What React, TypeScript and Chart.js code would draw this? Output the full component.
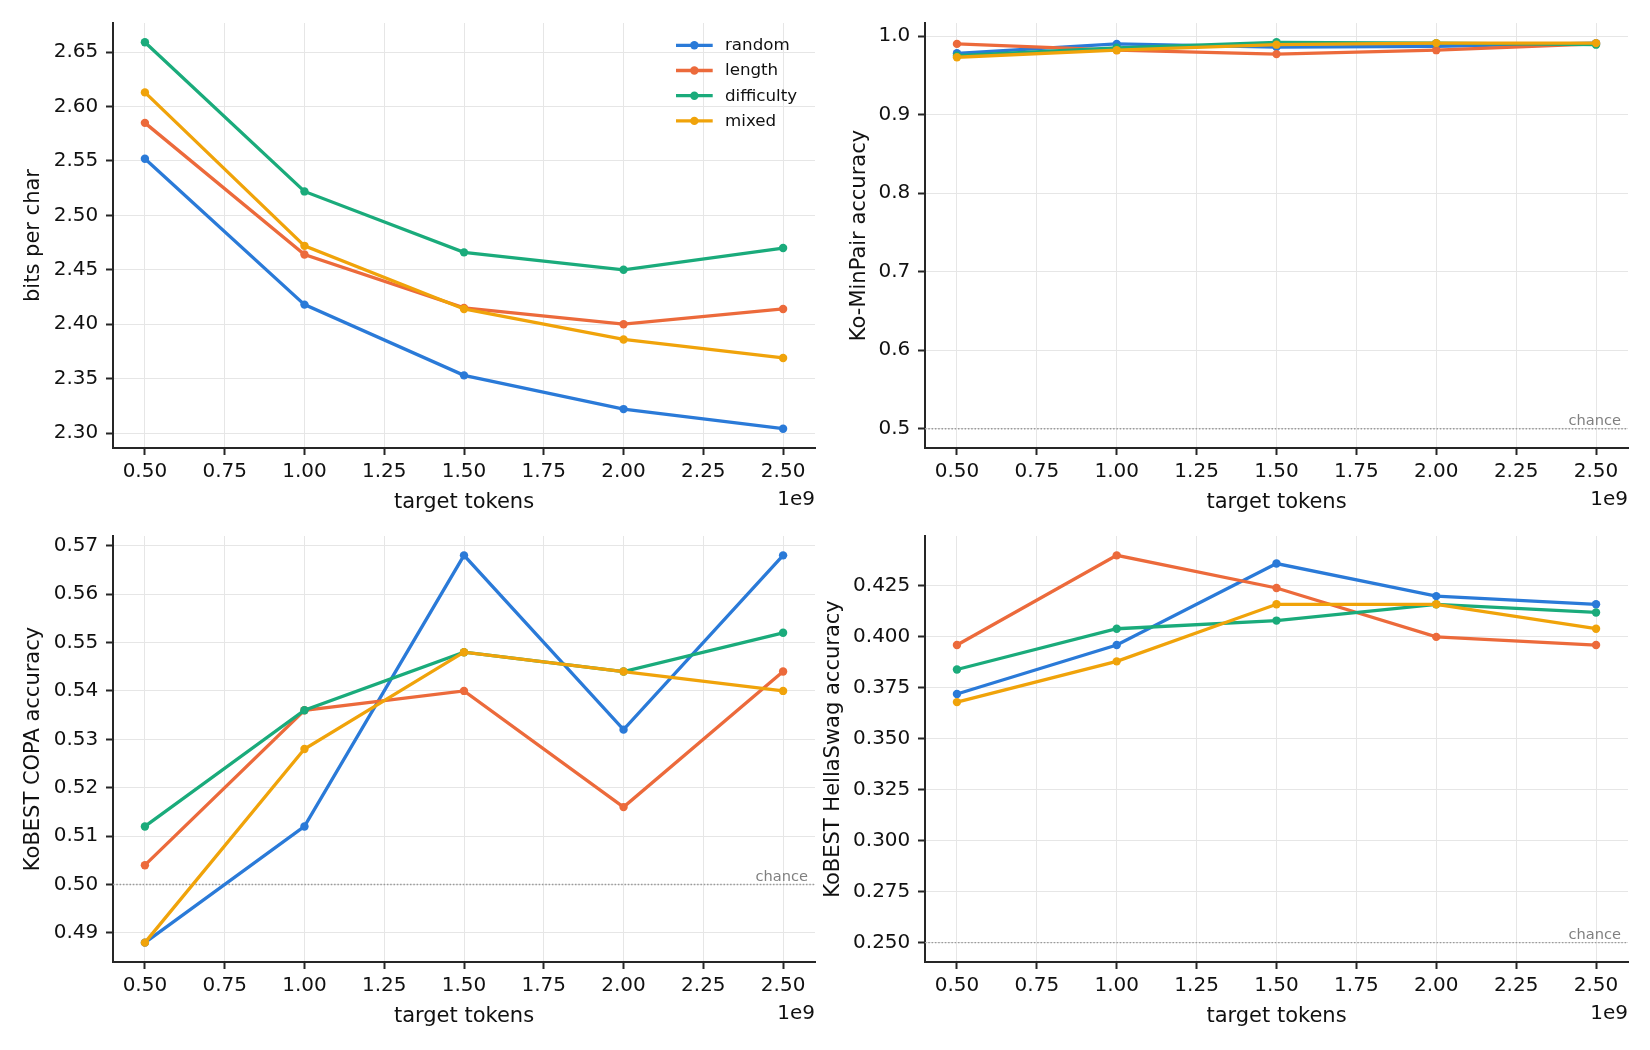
import React, { useEffect, useRef } from "react";
import { Chart, registerables } from "chart.js";

Chart.register(...registerables);

// ---------- data ----------
const tokens = [0.5e9, 1.0e9, 1.5e9, 2.0e9, 2.5e9];
const xTicks = [0.5e9, 0.75e9, 1.0e9, 1.25e9, 1.5e9, 1.75e9, 2.0e9, 2.25e9, 2.5e9];

const seriesNames = ["random", "length", "difficulty", "mixed"];
const seriesColors = ["#2a7ad8", "#ec6a3b", "#1aab7b", "#f0a30a"];

const bpcRandom = [2.552, 2.418, 2.353, 2.322, 2.304];
const bpcLength = [2.585, 2.464, 2.415, 2.400, 2.414];
const bpcDifficulty = [2.659, 2.522, 2.466, 2.450, 2.470];
const bpcMixed = [2.613, 2.472, 2.414, 2.386, 2.369];
const bpcTicks = [2.30, 2.35, 2.40, 2.45, 2.50, 2.55, 2.60, 2.65];

const minpairRandom = [0.978, 0.990, 0.986, 0.987, 0.991];
const minpairLength = [0.990, 0.982, 0.977, 0.982, 0.990];
const minpairDifficulty = [0.975, 0.985, 0.992, 0.991, 0.989];
const minpairMixed = [0.973, 0.982, 0.989, 0.991, 0.991];
const minpairTicks = [0.5, 0.6, 0.7, 0.8, 0.9, 1.0];

const copaRandom = [0.488, 0.512, 0.568, 0.532, 0.568];
const copaLength = [0.504, 0.536, 0.540, 0.516, 0.544];
const copaDifficulty = [0.512, 0.536, 0.548, 0.544, 0.552];
const copaMixed = [0.488, 0.528, 0.548, 0.544, 0.540];
const copaTicks = [0.49, 0.50, 0.51, 0.52, 0.53, 0.54, 0.55, 0.56, 0.57];

const hellaRandom = [0.372, 0.396, 0.436, 0.420, 0.416];
const hellaLength = [0.396, 0.440, 0.424, 0.400, 0.396];
const hellaDifficulty = [0.384, 0.404, 0.408, 0.416, 0.412];
const hellaMixed = [0.368, 0.388, 0.416, 0.416, 0.404];
const hellaTicks = [0.250, 0.275, 0.300, 0.325, 0.350, 0.375, 0.400, 0.425];

const FONT = "'DejaVu Sans', 'Liberation Sans', sans-serif";
const TEXT = "#111111";
const SPINE = "#262626";
const GRID = "#e6e6e6";

type PanelDef = {
  key: string;
  left: number;
  top: number;
  width: number;
  height: number;
  area: { left: number; right: number; top: number; bottom: number };
  yTitle: string;
  yTitlePad: number;
  xTitlePad: number;
  series: number[][];
  yTicks: number[];
  decimals: number;
  chance: number | null;
  legend: boolean;
};

const panels: PanelDef[] = [
  {
    key: "bpc",
    left: 0, top: 0, width: 825, height: 525,
    area: { left: 113, right: 815, top: 23, bottom: 448 },
    yTitle: "bits per char", yTitlePad: 20.7, xTitlePad: 10.2,
    series: [bpcRandom, bpcLength, bpcDifficulty, bpcMixed],
    yTicks: bpcTicks, decimals: 2, chance: null, legend: true,
  },
  {
    key: "minpair",
    left: 800, top: 0, width: 850, height: 525,
    area: { left: 125, right: 828, top: 23, bottom: 448 },
    yTitle: "Ko-MinPair accuracy", yTitlePad: 47.3, xTitlePad: 10.2,
    series: [minpairRandom, minpairLength, minpairDifficulty, minpairMixed],
    yTicks: minpairTicks, decimals: 1, chance: 0.5, legend: false,
  },
  {
    key: "copa",
    left: 0, top: 525, width: 825, height: 525,
    area: { left: 113, right: 815, top: 11, bottom: 437 },
    yTitle: "KoBEST COPA accuracy", yTitlePad: 20.7, xTitlePad: 21.2,
    series: [copaRandom, copaLength, copaDifficulty, copaMixed],
    yTicks: copaTicks, decimals: 2, chance: 0.5, legend: false,
  },
  {
    key: "hella",
    left: 800, top: 525, width: 850, height: 525,
    area: { left: 125, right: 828, top: 11, bottom: 437 },
    yTitle: "KoBEST HellaSwag accuracy", yTitlePad: 20.8, xTitlePad: 21.2,
    series: [hellaRandom, hellaLength, hellaDifficulty, hellaMixed],
    yTicks: hellaTicks, decimals: 3, chance: 0.25, legend: false,
  },
];

function Panel({ def }: { def: PanelDef }) {
  const ref = useRef<HTMLCanvasElement | null>(null);

  useEffect(() => {
    if (!ref.current) return;
    const all: number[] = [];
    def.series.forEach((s) => all.push(...s));
    if (def.chance !== null) all.push(def.chance);
    const lo = Math.min(...all);
    const hi = Math.max(...all);
    const m = (hi - lo) * 0.05;

    const overlay = {
      id: "overlay_" + def.key,
      beforeDatasetsDraw(chart: any) {
        if (def.chance === null) return;
        const { ctx, chartArea } = chart;
        const y = chart.scales.y.getPixelForValue(def.chance);
        ctx.save();
        ctx.strokeStyle = "#9a9a9a";
        ctx.lineWidth = 1.4;
        ctx.setLineDash([1.5, 1.8]);
        ctx.beginPath();
        ctx.moveTo(chartArea.left, y);
        ctx.lineTo(chartArea.right, y);
        ctx.stroke();
        ctx.setLineDash([]);
        ctx.font = `14.6px ${FONT}`;
        ctx.fillStyle = "#808080";
        ctx.textAlign = "right";
        ctx.textBaseline = "alphabetic";
        ctx.fillText("chance", chartArea.left + 0.99 * (chartArea.right - chartArea.left), y - 3.5);
        ctx.restore();
      },
      afterDraw(chart: any) {
        const { ctx, chartArea } = chart;
        ctx.save();
        ctx.font = `20px ${FONT}`;
        ctx.fillStyle = TEXT;
        ctx.textAlign = "right";
        ctx.textBaseline = "alphabetic";
        ctx.fillText("1e9", chartArea.right, chartArea.bottom + 56.5);
        if (def.legend) {
          ctx.font = `16.7px ${FONT}`;
          ctx.textAlign = "left";
          ctx.textBaseline = "middle";
          seriesNames.forEach((name, i) => {
            const y = chartArea.top + 22.3 + i * 25.2;
            const x0 = chartArea.right - 139;
            const x1 = chartArea.right - 102.3;
            ctx.strokeStyle = seriesColors[i];
            ctx.lineWidth = 3.3;
            ctx.beginPath();
            ctx.moveTo(x0, y);
            ctx.lineTo(x1, y);
            ctx.stroke();
            ctx.fillStyle = seriesColors[i];
            ctx.beginPath();
            ctx.arc((x0 + x1) / 2, y, 4.2, 0, Math.PI * 2);
            ctx.fill();
            ctx.fillStyle = TEXT;
            ctx.fillText(name, chartArea.right - 90, y + 0.5);
          });
        }
        ctx.restore();
      },
    };

    const chart = new Chart(ref.current, {
      type: "line",
      data: {
        datasets: def.series.map((s, i) => ({
          label: seriesNames[i],
          data: s.map((v, j) => ({ x: tokens[j], y: v })),
          borderColor: seriesColors[i],
          backgroundColor: seriesColors[i],
          pointBackgroundColor: seriesColors[i],
          pointBorderWidth: 0,
          pointRadius: 4.2,
          borderWidth: 3.3,
          tension: 0,
          fill: false,
          order: def.series.length - i,
        })),
      },
      options: {
        responsive: false,
        animation: false,
        events: [],
        layout: {
          autoPadding: false,
          padding: { top: def.area.top, right: def.width - def.area.right, bottom: 0, left: 0 },
        },
        plugins: { legend: { display: false }, tooltip: { enabled: false } },
        scales: {
          x: {
            type: "linear",
            min: 0.4e9,
            max: 2.6e9,
            afterBuildTicks: (s: any) => {
              s.ticks = xTicks.map((v) => ({ value: v }));
            },
            afterFit: (s: any) => {
              s.height = def.height - def.area.bottom;
              s.paddingLeft = 0;
              s.paddingRight = 0;
              s.paddingTop = 0;
              s.paddingBottom = 0;
            },
            ticks: {
              callback: (v: any) => (Number(v) / 1e9).toFixed(2),
              font: { size: 20, family: FONT },
              color: TEXT,
              padding: 5,
              maxRotation: 0,
              autoSkip: false,
            },
            grid: { color: GRID, lineWidth: 1, tickColor: SPINE, tickWidth: 2, tickLength: 7 },
            border: { display: true, color: SPINE, width: 2 },
            title: {
              display: true,
              text: "target tokens",
              font: { size: 21, family: FONT },
              color: TEXT,
              padding: { top: 0, bottom: def.xTitlePad },
            },
          },
          y: {
            type: "linear",
            min: lo - m,
            max: hi + m,
            afterBuildTicks: (s: any) => {
              s.ticks = def.yTicks.map((v) => ({ value: v }));
            },
            afterFit: (s: any) => {
              s.width = def.area.left;
              s.paddingLeft = 0;
              s.paddingRight = 0;
              s.paddingTop = 0;
              s.paddingBottom = 0;
            },
            ticks: {
              callback: (v: any) => Number(v).toFixed(def.decimals),
              font: { size: 20, family: FONT },
              color: TEXT,
              padding: 7.7,
              autoSkip: false,
            },
            grid: { color: GRID, lineWidth: 1, tickColor: SPINE, tickWidth: 2, tickLength: 7 },
            border: { display: true, color: SPINE, width: 2 },
            title: {
              display: true,
              text: def.yTitle,
              font: { size: 21, family: FONT },
              color: TEXT,
              padding: { top: def.yTitlePad, bottom: 0 },
            },
          },
        },
      } as any,
      plugins: [overlay],
    });
    return () => chart.destroy();
  }, [def]);

  return (
    <canvas
      ref={ref}
      width={def.width}
      height={def.height}
      style={{ position: "absolute", left: def.left, top: def.top, width: def.width, height: def.height }}
    />
  );
}

export default function App() {
  return (
    <div style={{ position: "absolute", left: 0, top: 0, width: 1650, height: 1050, background: "#ffffff", overflow: "hidden" }}>
      {panels.map((p) => (
        <Panel key={p.key} def={p} />
      ))}
    </div>
  );
}
